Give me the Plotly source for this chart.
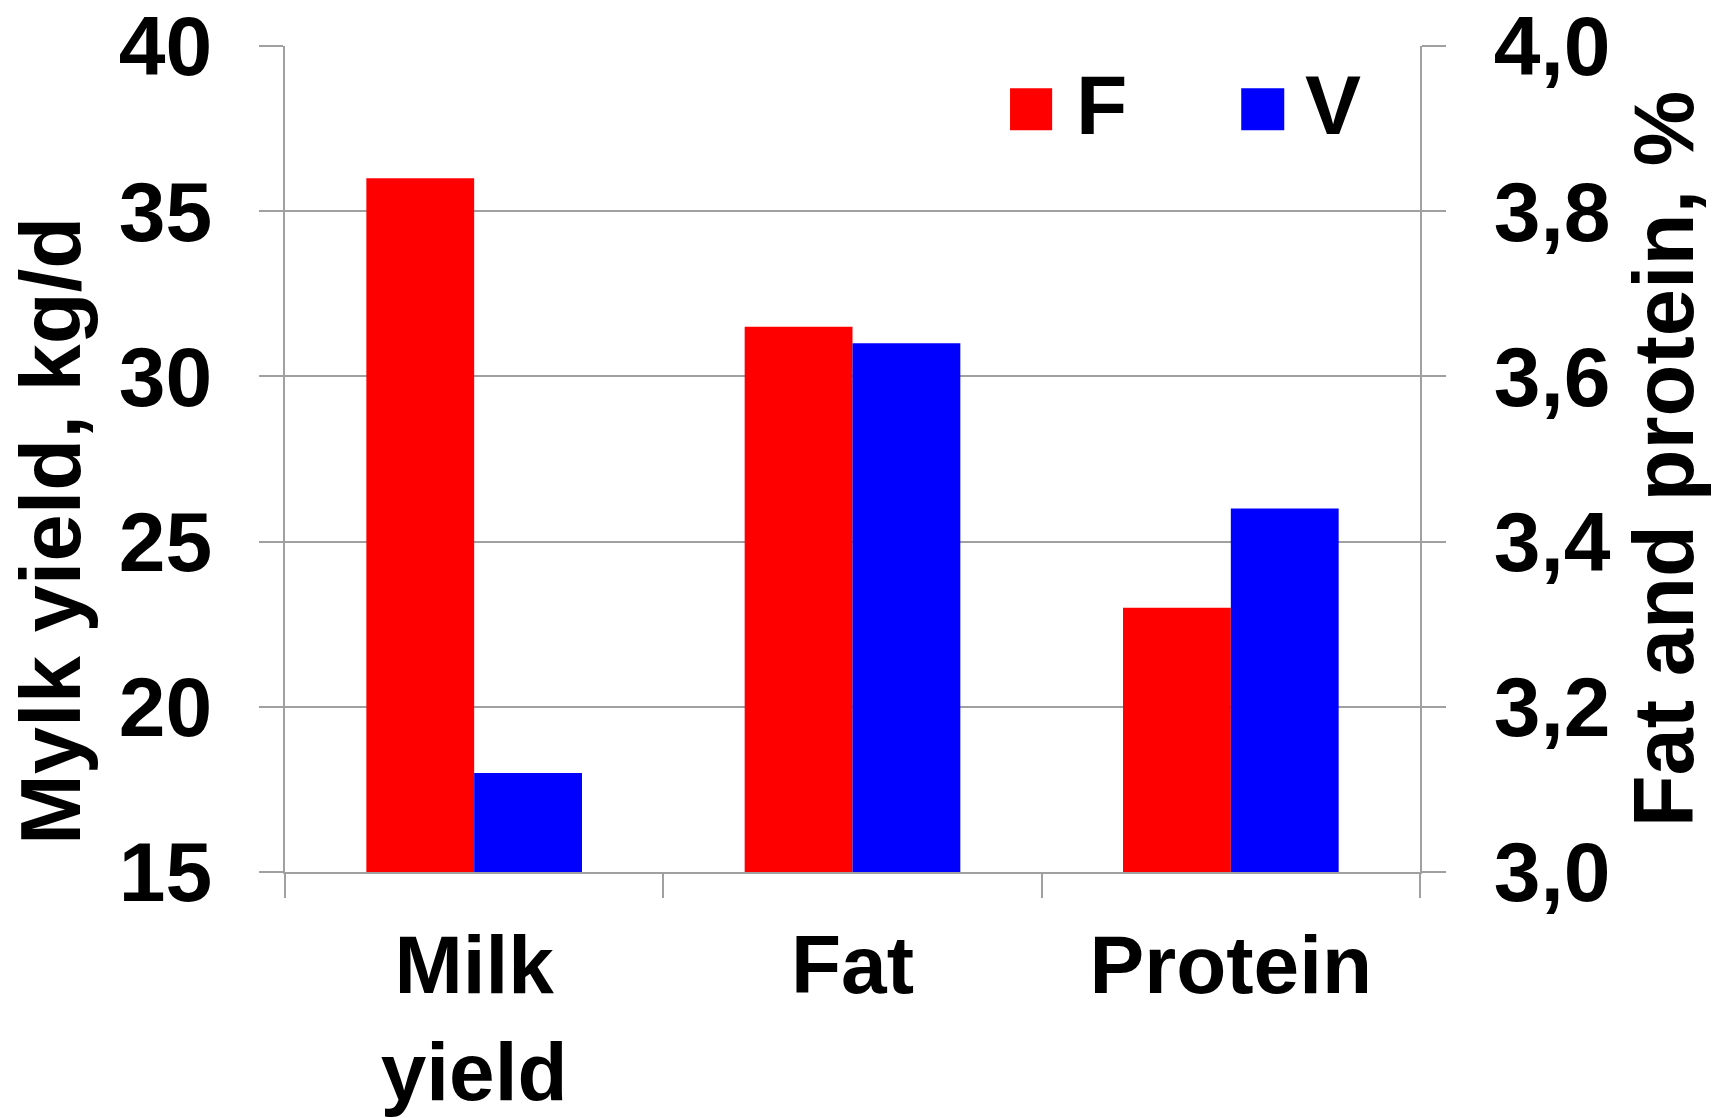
import plotly.graph_objects as go

# Categories on the shared x axis
categories = ["Milk<br>yield", "Fat", "Protein"]

# Milk yield (kg/d) on the left axis
milk_categories = ["Milk<br>yield"]
milk_F = [36.0]
milk_V = [18.0]

# Fat and protein content (%) on the right axis
pct_categories = ["Fat", "Protein"]
pct_F = [3.66, 3.32]
pct_V = [3.64, 3.44]

# Axis ticks
left_ticks = [15, 20, 25, 30, 35, 40]
right_ticks = [3.0, 3.2, 3.4, 3.6, 3.8, 4.0]

RED = "#FF0000"
BLUE = "#0000FF"
GRID = "#A0A0A0"
FONT = "Liberation Sans, Arial, sans-serif"

fig = go.Figure()

fig.add_trace(go.Bar(x=milk_categories, y=milk_F, name="F", marker_color=RED,
                     marker_line_width=0, offsetgroup="F", alignmentgroup="all",
                     yaxis="y", showlegend=False))
fig.add_trace(go.Bar(x=milk_categories, y=milk_V, name="V", marker_color=BLUE,
                     marker_line_width=0, offsetgroup="V", alignmentgroup="all",
                     yaxis="y", showlegend=False))
fig.add_trace(go.Bar(x=pct_categories, y=pct_F, name="F", marker_color=RED,
                     marker_line_width=0, offsetgroup="F", alignmentgroup="all",
                     yaxis="y2", showlegend=False))
fig.add_trace(go.Bar(x=pct_categories, y=pct_V, name="V", marker_color=BLUE,
                     marker_line_width=0, offsetgroup="V", alignmentgroup="all",
                     yaxis="y2", showlegend=False))

tick_font = dict(family=FONT, size=84, color="black", weight="bold")
cat_font = dict(family=FONT, size=82, color="black", weight="bold")
title_font = dict(family=FONT, size=85, color="black", weight="bold")

fig.update_layout(
    width=1735, height=1118,
    margin=dict(l=285, r=315, t=46, b=246, autoexpand=False),
    paper_bgcolor="white", plot_bgcolor="white",
    barmode="group", bargap=0.43, bargroupgap=0,
    separators=", ",
    showlegend=False,
    xaxis=dict(
        type="category", categoryorder="array", categoryarray=categories,
        range=[-0.5, 2.5], tickson="boundaries",
        ticks="outside", ticklen=24, tickwidth=2, tickcolor=GRID,
        showline=True, linecolor=GRID, linewidth=2,
        showgrid=False, tickfont=cat_font, ticklabelstandoff=21,
        ticklabeloverflow="allow",
    ),
    yaxis=dict(
        range=[15, 40], tickvals=left_ticks,
        ticks="outside", ticklen=24, tickwidth=2, tickcolor=GRID,
        showline=True, linecolor=GRID, linewidth=2,
        showgrid=True, gridcolor=GRID, gridwidth=2, zeroline=False,
        tickfont=tick_font, ticklabelstandoff=30,
        ticklabeloverflow="allow",
    ),
    yaxis2=dict(
        overlaying="y", side="right",
        range=[3.0, 4.0], tickvals=right_ticks, tickformat=".1f",
        ticks="outside", ticklen=24, tickwidth=2, tickcolor=GRID,
        showline=True, linecolor=GRID, linewidth=2,
        showgrid=False, zeroline=False,
        tickfont=tick_font, ticklabelstandoff=31,
        ticklabeloverflow="allow",
        title=dict(text="Fat and protein, %", font=title_font, standoff=24),
    ),
)

# Left axis title, set slightly below the vertical centre of the plot
fig.add_annotation(text="Mylk yield, kg/d", xref="paper", yref="paper",
                   x=-0.25, y=0.4125, xanchor="left", yanchor="middle",
                   textangle=-90, showarrow=False, font=title_font)

# Legend drawn as coloured squares with labels inside the plot area
legend_items = [("F", RED, 0.6388, 0.6759, 0.695),
                ("V", BLUE, 0.8425, 0.8804, 0.8966)]
for label, color, x0, x1, xt in legend_items:
    fig.add_shape(type="rect", xref="paper", yref="paper",
                  x0=x0, x1=x1, y0=0.898, y1=0.949,
                  fillcolor=color, line_width=0)
    fig.add_annotation(text=label, xref="paper", yref="paper",
                       x=xt, y=0.928, xanchor="left", yanchor="middle",
                       showarrow=False, font=tick_font)

fig.write_html("out.html")
